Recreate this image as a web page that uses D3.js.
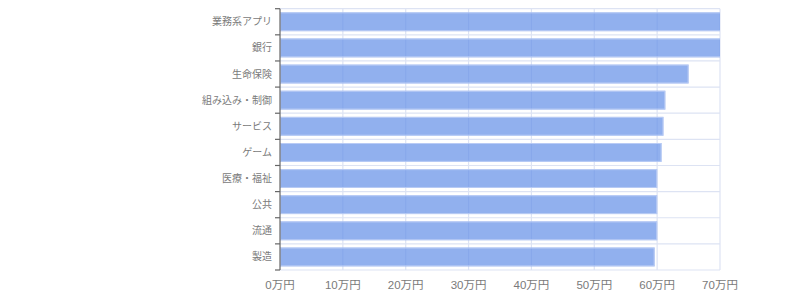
<!DOCTYPE html>
<html>
<head>
<meta charset="utf-8">
<script src="https://cdn.jsdelivr.net/npm/d3@7"></script>
<style>
html,body{margin:0;padding:0;background:#fff;}
svg{display:block;font-family:"Helvetica Neue",Arial,"Liberation Sans","Noto Sans CJK JP",sans-serif;}
</style>
</head>
<body>
<svg id="chart" width="800" height="300"></svg>
<script>
const categories = ["業務系アプリ","銀行","生命保険","組み込み・制御","サービス","ゲーム","医療・福祉","公共","流通","製造"];
const values = [75, 72, 65, 61.3, 61.0, 60.7, 60.0, 60.0, 60.0, 59.6];
const xTicks = [0,10,20,30,40,50,60,70];
const tickLabel = v => v + "万円";

const svg = d3.select("#chart");
const margin = {left:280, right:80, top:8.7, bottom:30};
const W = 800, H = 300;
const x = d3.scaleLinear().domain([0,70]).range([margin.left, W - margin.right]);
const y = d3.scaleBand().domain(categories).range([margin.top, H - margin.bottom]).paddingInner(0).paddingOuter(0);

const gridColor = "#dde3f3";
const textColor = "#7a7a7a";

svg.append("defs").append("clipPath").attr("id","clip")
  .append("rect").attr("x", x(0)).attr("y", margin.top).attr("width", x(70)-x(0)).attr("height", y.range()[1]-margin.top);

// horizontal gridlines at band boundaries
const bounds = categories.map(c => y(c)).concat([y.range()[1]]);
svg.append("g").selectAll("line").data(bounds).join("line")
  .attr("x1", x(0)).attr("x2", x(70))
  .attr("y1", d => d).attr("y2", d => d)
  .attr("stroke", gridColor).attr("stroke-width", 1.2);

// vertical gridlines
svg.append("g").selectAll("line").data(xTicks.slice(1)).join("line")
  .attr("x1", d => x(d)).attr("x2", d => x(d))
  .attr("y1", margin.top).attr("y2", y.range()[1])
  .attr("stroke", gridColor).attr("stroke-width", 1.2);

// bars
const barH = y.bandwidth() * 0.72;
const bars = svg.append("g").attr("clip-path","url(#clip)");
bars.selectAll("rect.bar").data(categories).join("rect")
  .attr("class","bar")
  .attr("x", x(0))
  .attr("y", (c) => y(c) + (y.bandwidth() - barH)/2)
  .attr("width", (c,i) => x(values[i]) - x(0))
  .attr("height", barH)
  .attr("fill", "rgba(102,145,232,0.72)");
// bar borders (inner)
bars.selectAll("rect.border").data(categories).join("rect")
  .attr("class","border")
  .attr("x", x(0) + 0.5)
  .attr("y", (c) => y(c) + (y.bandwidth() - barH)/2 + 0.5)
  .attr("width", (c,i) => x(values[i]) - x(0) - 1)
  .attr("height", barH - 1)
  .attr("fill", "none")
  .attr("stroke", "rgba(190,206,245,0.9)")
  .attr("stroke-width", 1);

// left axis line and ticks
svg.append("line").attr("x1", x(0)).attr("x2", x(0)).attr("y1", margin.top).attr("y2", y.range()[1])
  .attr("stroke", "#666").attr("stroke-width", 1.2);
svg.append("g").selectAll("line").data(bounds).join("line")
  .attr("x1", x(0) - 5).attr("x2", x(0))
  .attr("y1", d => d).attr("y2", d => d)
  .attr("stroke", "#666").attr("stroke-width", 1.2);

// category labels
svg.append("g").selectAll("text").data(categories).join("text")
  .attr("x", x(0) - 8)
  .attr("y", c => y(c) + y.bandwidth()/2)
  .attr("dy", "0.35em")
  .attr("text-anchor", "end")
  .attr("font-size", 10)
  .attr("fill", textColor)
  .text(d => d);

// x tick labels
svg.append("g").selectAll("text").data(xTicks).join("text")
  .attr("x", d => x(d))
  .attr("y", 289)
  .attr("text-anchor", "middle")
  .attr("font-size", 11.5)
  .attr("fill", textColor)
  .text(tickLabel);
</script>
</body>
</html>
